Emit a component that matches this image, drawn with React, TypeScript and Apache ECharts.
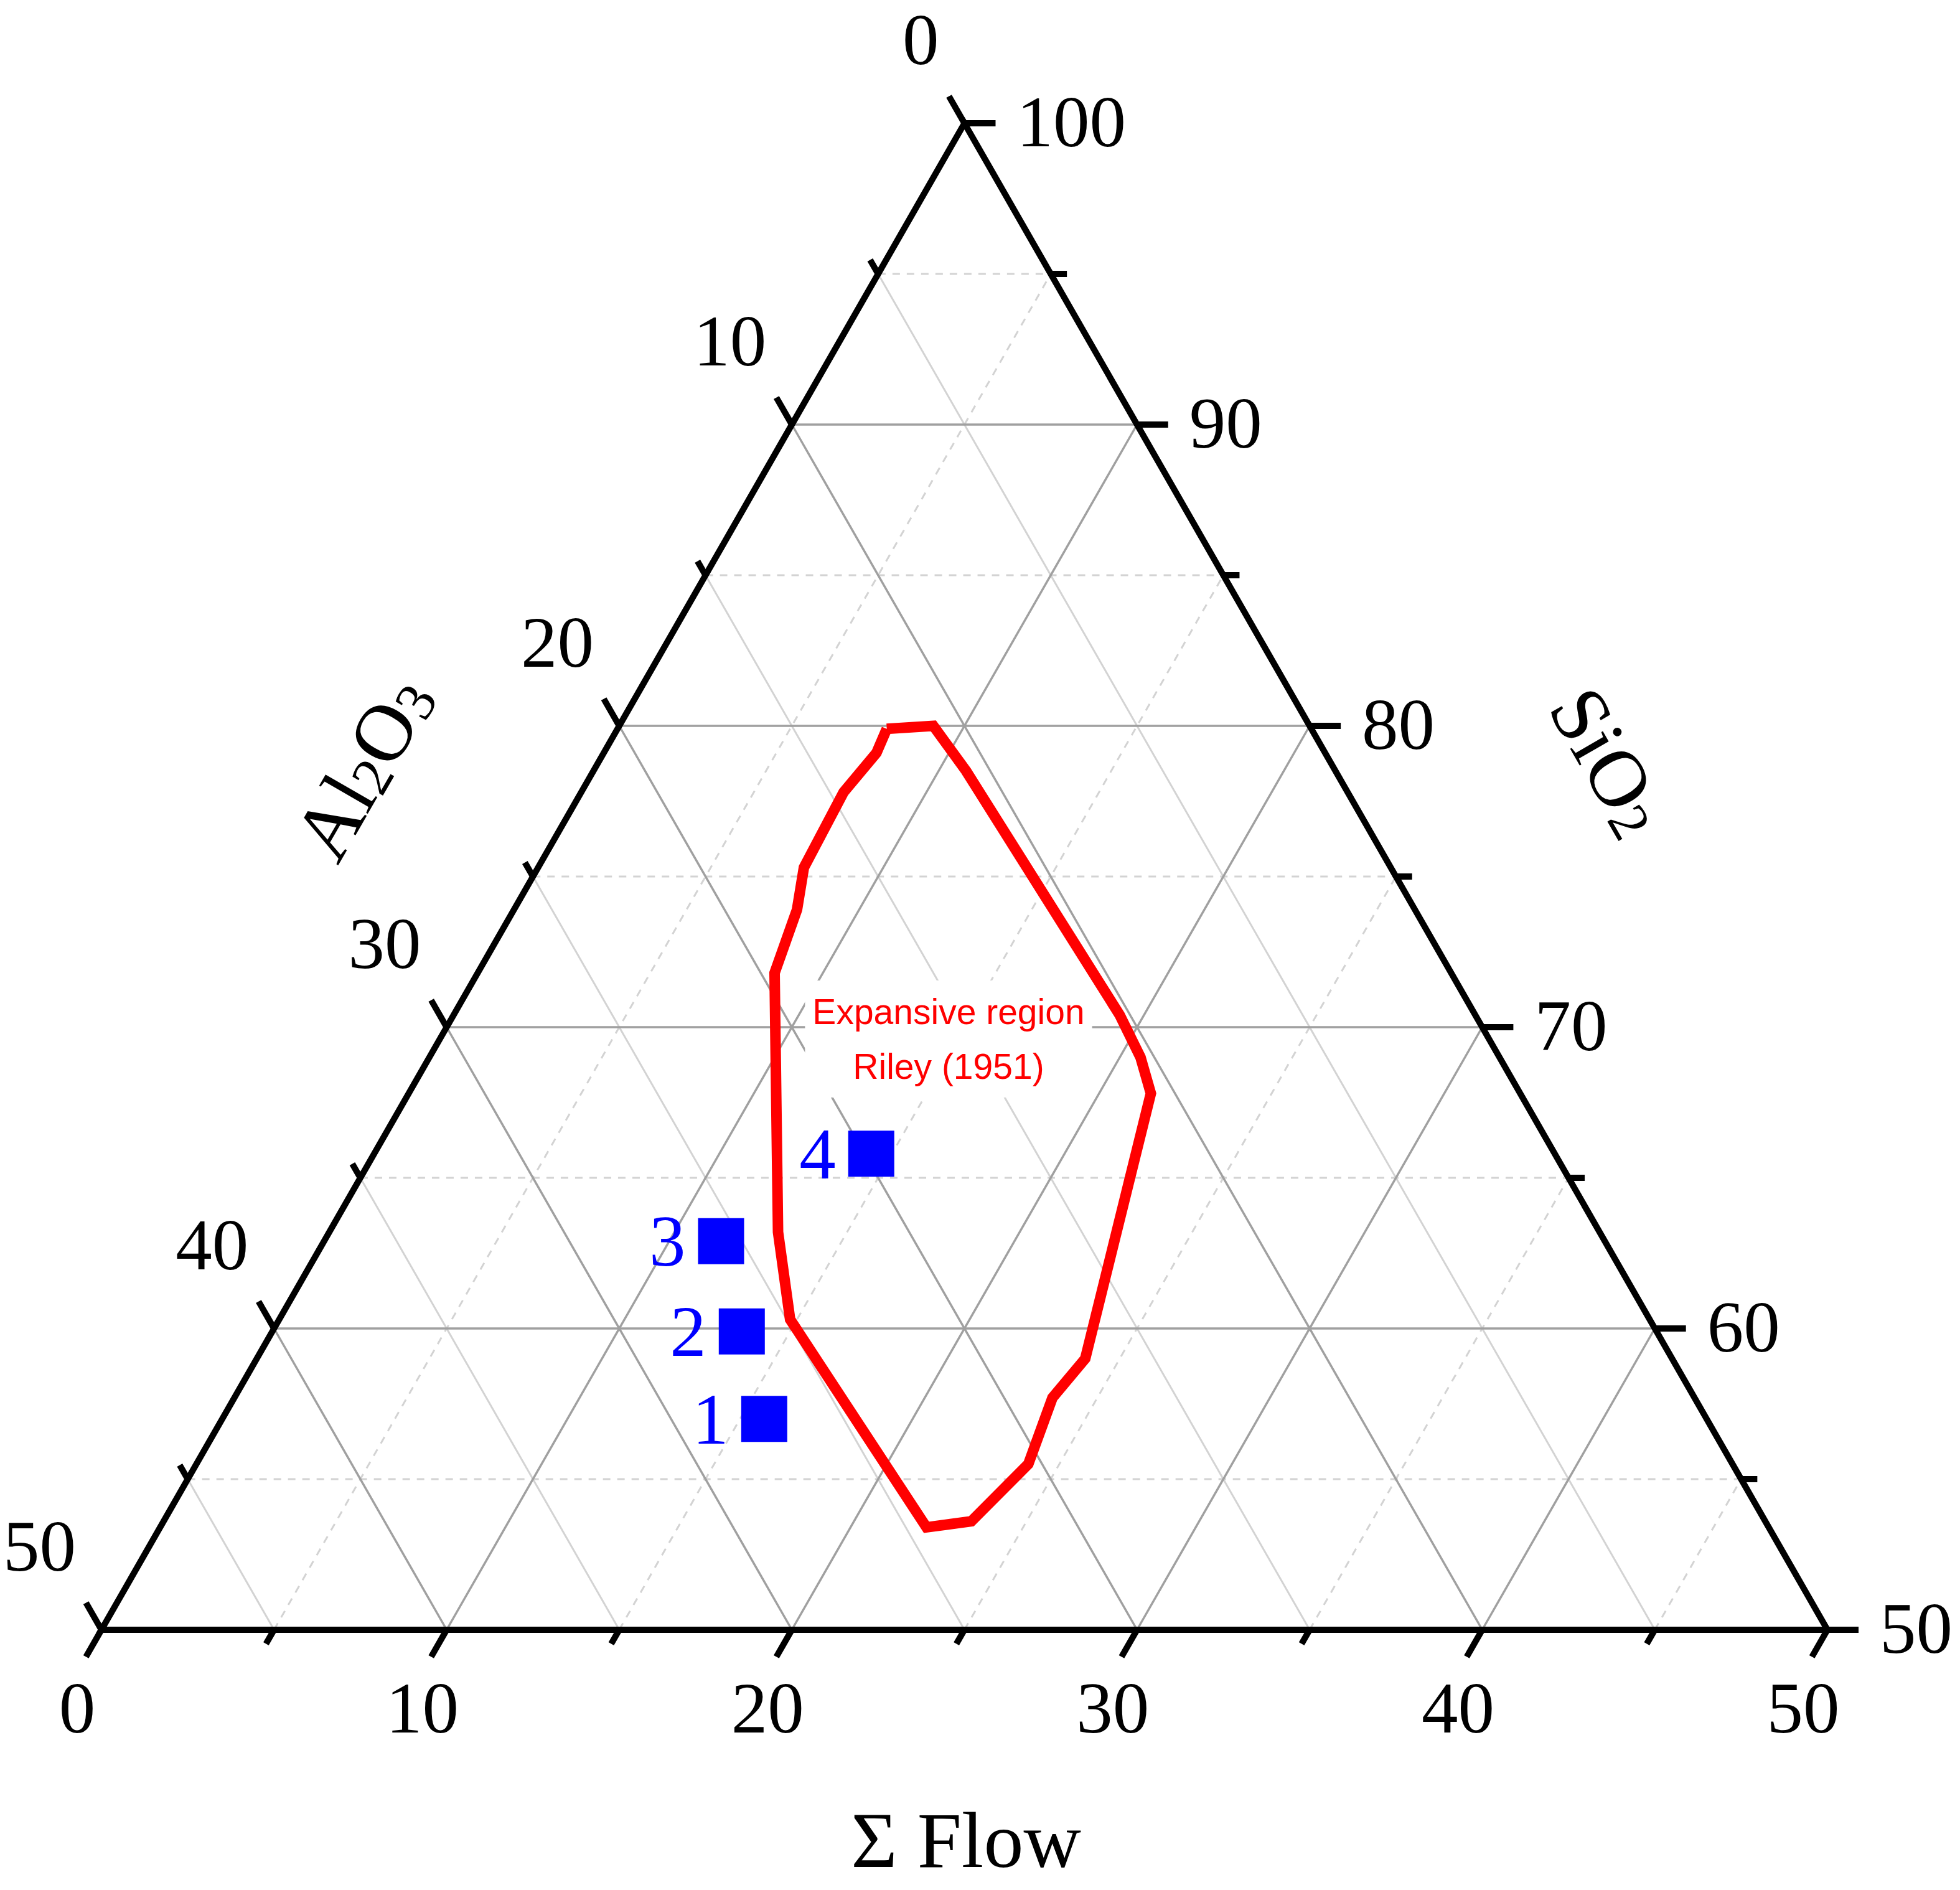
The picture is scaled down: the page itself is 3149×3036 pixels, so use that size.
import React, { useEffect, useRef } from 'react';
import * as echarts from 'echarts';

const W = 3149;
const H = 3036;

// Samples (ternary composition, %)
const sampleNames = ['1', '2', '3', '4'];
const sampleSiO2 = [57.0, 59.9, 62.9, 65.8];
const sampleAl2O3 = [27.3, 26.5, 25.6, 19.8];
const sampleFlow = [15.7, 13.6, 11.5, 14.4];

// Expansive region, Riley (1951) outline
const regionSiO2 = [79.9, 80.0, 78.5, 70.4, 69.0, 67.8, 59.0, 57.7, 55.5, 53.6, 53.4, 60.3, 63.2, 71.8, 73.9, 75.3, 77.8, 79.1];
const regionAl2O3 = [12.3, 10.9, 10.7, 10.3, 10.4, 10.7, 17.0, 18.6, 20.4, 23.0, 24.4, 24.9, 23.8, 19.6, 17.9, 17.0, 14.6, 13.0];
const regionFlow = [7.8, 9.1, 10.8, 19.3, 20.6, 21.5, 24.0, 23.7, 24.1, 23.4, 22.2, 14.8, 13.0, 8.6, 8.2, 7.7, 7.6, 7.9];

// Axis ticks
const tickSteps = [0, 5, 10, 15, 20, 25, 30, 35, 40, 45, 50];
const gridSteps = [5, 10, 15, 20, 25, 30, 35, 40, 45];
const flowTickLabels = ['0', '10', '20', '30', '40', '50'];
const al2o3TickLabels = ['0', '10', '20', '30', '40', '50'];
const sio2TickLabels = ['100', '90', '80', '70', '60', '50'];

const SERIF = 'Liberation Serif, Times New Roman, serif';
const SANS = 'Liberation Sans, Arial, sans-serif';

// ternary (Flow, SiO2) -> cartesian plotting units
function toXY(flow: number, sio2: number): number[] {
  return [flow + (sio2 - 50) / 2, sio2 - 50];
}

function seg(f1: number, s1: number, f2: number, s2: number): number[] {
  const a = toXY(f1, s1);
  const b = toXY(f2, s2);
  return [a[0], a[1], b[0], b[1]];
}

function segSeries(data: number[][], style: any, z: number) {
  return {
    type: 'custom',
    coordinateSystem: 'cartesian2d',
    silent: true,
    z,
    clip: false,
    data,
    encode: { x: [0, 2], y: [1, 3] },
    renderItem: (params: any, api: any) => {
      const p1 = api.coord([api.value(0), api.value(1)]);
      const p2 = api.coord([api.value(2), api.value(3)]);
      return {
        type: 'line',
        shape: { x1: p1[0], y1: p1[1], x2: p2[0], y2: p2[1] },
        style,
      };
    },
  };
}

function buildOption() {
  const majorSegs: number[][] = [];
  const minorSolid: number[][] = [];
  const minorDash: number[][] = [];
  gridSteps.forEach((v) => {
    const sLine = seg(0, 50 + v, 50 - v, 50 + v);
    const alLine = seg(0, 100 - v, 50 - v, 50);
    const fLine = seg(v, 50, v, 100 - v);
    if (v % 10 === 0) {
      majorSegs.push(sLine, alLine, fLine);
    } else {
      minorSolid.push(alLine);
      minorDash.push(sLine, fLine);
    }
  });

  const ticks: number[][] = [];
  tickSteps.forEach((v) => {
    const len = v % 10 === 0 ? 50 : 26;
    const b = toXY(v, 50);
    ticks.push([b[0], b[1], -0.5, -1, len]);
    const l = toXY(0, 100 - v);
    ticks.push([l[0], l[1], -0.5, 1, len]);
    const r = toXY(50 - v, 50 + v);
    ticks.push([r[0], r[1], 1, 0, len]);
  });

  const region = regionSiO2.map((s, i) => toXY(regionFlow[i], s));
  region.push(region[0]);

  const samples = sampleNames.map((n, i) => ({
    name: n,
    value: toXY(sampleFlow[i], sampleSiO2[i]),
    al2o3: sampleAl2O3[i],
  }));

  const tickLabelBase = {
    show: true,
    position: 'inside',
    fontSize: 117,
    fontFamily: SERIF,
    color: '#000',
    opacity: 1,
    formatter: (p: any) => p.name,
  };

  const labelScatter = (data: any[], label: any) => ({
    type: 'scatter',
    silent: true,
    clip: false,
    z: 6,
    symbolSize: 1,
    itemStyle: { color: 'rgba(0,0,0,0)', opacity: 1 },
    data,
    label: { ...tickLabelBase, ...label },
  });

  const flowLabelData = flowTickLabels.map((t) => ({ name: t, value: toXY(Number(t), 50) }));
  const alLabelData = al2o3TickLabels.map((t) => ({ name: t, value: toXY(0, 100 - Number(t)) }));
  const siLabelData = sio2TickLabels.map((t) => ({ name: t, value: toXY(100 - Number(t), Number(t)) }));

  const richTitle = {
    m: { fontSize: 130, fontFamily: SERIF, lineHeight: 130, verticalAlign: 'middle', fill: '#000' },
    s: { fontSize: 90, fontFamily: SERIF, lineHeight: 44, verticalAlign: 'bottom', fill: '#000' },
  };

  return {
    animation: false,
    backgroundColor: '#fff',
    grid: { left: 163, top: 198, width: 2773, height: 2420, containLabel: false },
    xAxis: { type: 'value', min: 0, max: 50, show: false },
    yAxis: { type: 'value', min: 0, max: 50, show: false },
    graphic: {
      elements: [
        {
          type: 'text',
          x: 1524,
          y: 1669,
          z: 3,
          silent: true,
          style: {
            text: 'Expansive region\nRiley (1951)',
            fill: '#ff0000',
            fontSize: 57,
            fontFamily: SANS,
            lineHeight: 88,
            align: 'center',
            verticalAlign: 'middle',
            backgroundColor: '#ffffff',
            padding: [6, 12],
          },
        },
        {
          type: 'text',
          x: 1552,
          y: 2956,
          z: 10,
          silent: true,
          style: {
            text: 'Σ Flow',
            fill: '#000',
            fontSize: 128,
            fontFamily: SERIF,
            align: 'center',
            verticalAlign: 'middle',
          },
        },
        {
          type: 'text',
          x: 583,
          y: 1233,
          rotation: Math.PI / 3,
          z: 10,
          silent: true,
          style: {
            text: '{m|Al}{s|2}{m|O}{s|3}',
            fill: '#000',
            align: 'center',
            verticalAlign: 'middle',
            rich: richTitle,
          },
        },
        {
          type: 'text',
          x: 2585,
          y: 1223,
          rotation: -Math.PI / 3,
          z: 10,
          silent: true,
          style: {
            text: '{m|SiO}{s|2}',
            fill: '#000',
            align: 'center',
            verticalAlign: 'middle',
            rich: richTitle,
          },
        },
      ],
    },
    series: [
      segSeries(minorSolid, { stroke: '#d3d3d3', lineWidth: 3 }, 1),
      segSeries(minorDash, { stroke: '#d3d3d3', lineWidth: 3, lineDash: [12, 11] }, 1),
      segSeries(majorSegs, { stroke: '#a0a0a0', lineWidth: 3.5 }, 2),
      {
        type: 'line',
        silent: true,
        z: 4,
        data: region,
        symbol: 'none',
        smooth: false,
        lineStyle: { color: '#ff0000', width: 17, join: 'miter', opacity: 1 },
      },
      {
        type: 'custom',
        coordinateSystem: 'cartesian2d',
        silent: true,
        z: 5,
        clip: false,
        data: [[0, 0]],
        renderItem: (params: any, api: any) => {
          const pts = [api.coord(toXY(0, 50)), api.coord(toXY(50, 50)), api.coord(toXY(0, 100))];
          return {
            type: 'polygon',
            shape: { points: pts },
            style: { fill: 'none', stroke: '#000', lineWidth: 10, lineJoin: 'miter' },
          };
        },
      },
      {
        type: 'custom',
        coordinateSystem: 'cartesian2d',
        silent: true,
        z: 5,
        clip: false,
        data: ticks,
        encode: { x: [0], y: [1] },
        renderItem: (params: any, api: any) => {
          const x0 = api.value(0);
          const y0 = api.value(1);
          const p0 = api.coord([x0, y0]);
          const p1 = api.coord([x0 + api.value(2), y0 + api.value(3)]);
          const dx = p1[0] - p0[0];
          const dy = p1[1] - p0[1];
          const n = Math.hypot(dx, dy);
          const L = api.value(4);
          return {
            type: 'line',
            shape: { x1: p0[0], y1: p0[1], x2: p0[0] + (dx / n) * L, y2: p0[1] + (dy / n) * L },
            style: { stroke: '#000', lineWidth: 10 },
          };
        },
      },
      labelScatter(flowLabelData, { align: 'center', verticalAlign: 'middle', offset: [-39, 125] }),
      labelScatter(alLabelData, { align: 'right', verticalAlign: 'middle', offset: [-41, -135] }),
      labelScatter(siLabelData, { align: 'left', verticalAlign: 'middle', offset: [84, -3] }),
      {
        type: 'scatter',
        silent: true,
        z: 7,
        clip: false,
        symbol: 'rect',
        symbolSize: 74,
        itemStyle: { color: '#0000ff', opacity: 1 },
        data: samples,
        label: {
          show: true,
          position: 'left',
          distance: 20,
          fontSize: 117,
          fontFamily: SERIF,
          color: '#0000ff',
          opacity: 1,
          formatter: (p: any) => p.name,
        },
      },
    ],
  };
}

export default function App() {
  const ref = useRef<HTMLDivElement>(null);
  useEffect(() => {
    document.body.style.margin = '0';
    const chart = echarts.init(ref.current as HTMLDivElement, null, { renderer: 'svg' });
    chart.setOption(buildOption() as any);
    return () => chart.dispose();
  }, []);
  return <div ref={ref} style={{ width: W, height: H }} />;
}
